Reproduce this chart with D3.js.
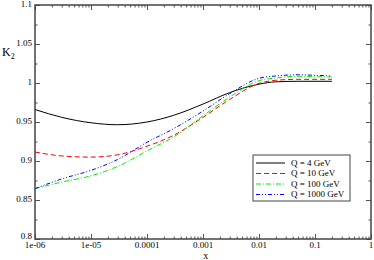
<!DOCTYPE html>
<html>
<head>
<meta charset="utf-8">
<script src="https://cdn.jsdelivr.net/npm/d3@7"></script>
<style>
  body { margin: 0; background: #fff; }
  svg text { font-family: "Liberation Serif", "DejaVu Serif", serif; fill: #000; }
</style>
</head>
<body>
<div id="chart"></div>
<script>
// x values (momentum fraction) shared by all curves
var xValues = [1e-6, 3e-6, 1e-5, 3e-5, 1e-4, 3e-4, 1e-3, 3e-3, 1e-2, 2e-2, 5e-2, 1e-1, 2e-1]

var k2Q4    = [0.966, 0.956, 0.949, 0.9465, 0.950, 0.9586, 0.973, 0.9877, 0.9985, 1.0015, 1.0022, 1.0022, 1.0022]
var k2Q10   = [0.9115, 0.9065, 0.905, 0.908, 0.919, 0.933, 0.956, 0.979, 0.9995, 1.0035, 1.0047, 1.0047, 1.0047]
var k2Q100  = [0.8646, 0.873, 0.881, 0.893, 0.913, 0.931, 0.958, 0.982, 1.003, 1.0064, 1.0086, 1.008, 1.0077]
var k2Q1000 = [0.8646, 0.877, 0.888, 0.902, 0.924, 0.9415, 0.964, 0.9864, 1.006, 1.009, 1.0105, 1.0099, 1.009]

var seriesNames = ['Q = 4 GeV', 'Q = 10 GeV', 'Q = 100 GeV', 'Q = 1000 GeV']
var seriesValues = [k2Q4, k2Q10, k2Q100, k2Q1000]
var seriesColors = ['#000000', '#ff0000', '#00ee00', '#0000ff']
var seriesDash = ['none', '5,3', '5,2,1,2', '4,2,1,2,1,2']

var xTickValues = [1e-6, 1e-5, 1e-4, 1e-3, 1e-2, 1e-1, 1]
var xTickLabels = ['1e-06', '1e-05', '0.0001', '0.001', '0.01', '0.1', '1']
var yTickValues = [0.8, 0.85, 0.9, 0.95, 1, 1.05, 1.1]
var yTickLabels = ['0.8', '0.85', '0.9', '0.95', '1', '1.05', '1.1']

var margin = { top: 5, right: 3, bottom: 21, left: 35 }
var width = 374 - margin.left - margin.right,
    height = 260 - margin.top - margin.bottom

var svg = d3.select('#chart').append('svg')
    .attr('width', 374)
    .attr('height', 260)
    .append('g')
    .attr('transform', 'translate(' + margin.left + ',' + margin.top + ')')

var xPositionScale = d3.scaleLog()
    .domain([1e-6, 1])
    .range([0, width])

var yPositionScale = d3.scaleLinear()
    .domain([0.8, 1.1])
    .range([height, 0])

// minor ticks
var xMinor = []
for (var e = -6; e < 0; e++) {
  for (var m = 2; m <= 9; m++) xMinor.push(m * Math.pow(10, e))
}
var yMinor = d3.range(0, 13).map(function (i) { return 0.8 + i * 0.025 })

function tickAxis(axisFn, scale, values, size) {
  return axisFn(scale).tickValues(values).tickSize(size).tickFormat('')
}

// inward ticks on all four sides
svg.append('g').attr('class', 'tk').attr('transform', 'translate(0,' + height + ')')
  .call(tickAxis(d3.axisTop, xPositionScale, xTickValues, 5))
svg.append('g').attr('class', 'tk').attr('transform', 'translate(0,' + height + ')')
  .call(tickAxis(d3.axisTop, xPositionScale, xMinor, 2.5))
svg.append('g').attr('class', 'tk')
  .call(tickAxis(d3.axisBottom, xPositionScale, xTickValues, 5))
svg.append('g').attr('class', 'tk')
  .call(tickAxis(d3.axisBottom, xPositionScale, xMinor, 2.5))
svg.append('g').attr('class', 'tk')
  .call(tickAxis(d3.axisRight, yPositionScale, yMinor, 2.5))
svg.append('g').attr('class', 'tk')
  .call(tickAxis(d3.axisRight, yPositionScale, yTickValues, 5))
svg.append('g').attr('class', 'tk').attr('transform', 'translate(' + width + ',0)')
  .call(tickAxis(d3.axisLeft, yPositionScale, yMinor, 2.5))
svg.append('g').attr('class', 'tk').attr('transform', 'translate(' + width + ',0)')
  .call(tickAxis(d3.axisLeft, yPositionScale, yTickValues, 5))

svg.selectAll('.tk .domain').remove()
svg.selectAll('.tk line').attr('stroke', '#555').attr('stroke-width', 1)

// tick labels
svg.selectAll('.xlab')
  .data(xTickValues)
  .enter().append('text')
  .attr('x', function (d) { return xPositionScale(d) })
  .attr('y', height + 9)
  .attr('text-anchor', 'middle')
  .attr('font-size', 9)
  .text(function (d, i) { return xTickLabels[i] })

svg.selectAll('.ylab')
  .data(yTickValues)
  .enter().append('text')
  .attr('x', -3)
  .attr('y', function (d) { return yPositionScale(d) - (d === 0.8 ? 2 : 0) })
  .attr('dy', '0.25em')
  .attr('text-anchor', 'end')
  .attr('font-size', 9)
  .text(function (d, i) { return yTickLabels[i] })

// curves
var line = d3.line()
  .x(function (d) { return xPositionScale(d[0]) })
  .y(function (d) { return yPositionScale(d[1]) })
  .curve(d3.curveMonotoneX)

seriesValues.forEach(function (vals, i) {
  svg.append('path')
    .datum(xValues.map(function (x, j) { return [x, vals[j]] }))
    .attr('fill', 'none')
    .attr('stroke', seriesColors[i])
    .attr('stroke-width', 1)
    .attr('stroke-dasharray', seriesDash[i])
    .attr('d', line)
})

// frame
svg.append('rect')
  .attr('x', 0).attr('y', 0)
  .attr('width', width).attr('height', height)
  .attr('fill', 'none')
  .attr('stroke', '#444')
  .attr('stroke-width', 1.5)

// legend
var legend = svg.append('g')
  .attr('transform', 'translate(' + (253 - margin.left) + ',' + (155 - margin.top) + ')')

legend.append('rect')
  .attr('width', 97).attr('height', 46)
  .attr('fill', '#fff')
  .attr('stroke', '#444')
  .attr('stroke-width', 1)

seriesNames.forEach(function (name, i) {
  var yy = 8 + i * 10.5
  legend.append('line')
    .attr('x1', 3).attr('x2', 32)
    .attr('y1', yy).attr('y2', yy)
    .attr('stroke', seriesColors[i])
    .attr('stroke-width', 1)
    .attr('stroke-dasharray', seriesDash[i])
  legend.append('text')
    .attr('x', 38).attr('y', yy)
    .attr('dy', '0.32em')
    .attr('font-size', 9)
    .text(name)
})

// axis titles
svg.append('text')
  .attr('x', xPositionScale(Math.pow(10, -2.95)))
  .attr('y', height + 20)
  .attr('text-anchor', 'middle')
  .attr('font-size', 10)
  .text('x')

var k2 = svg.append('text')
  .attr('x', -33)
  .attr('y', 51)
  .attr('font-size', 12)
k2.append('tspan').text('K')
k2.append('tspan').attr('font-size', 8).attr('dy', 3).text('2')
</script>
</body>
</html>
